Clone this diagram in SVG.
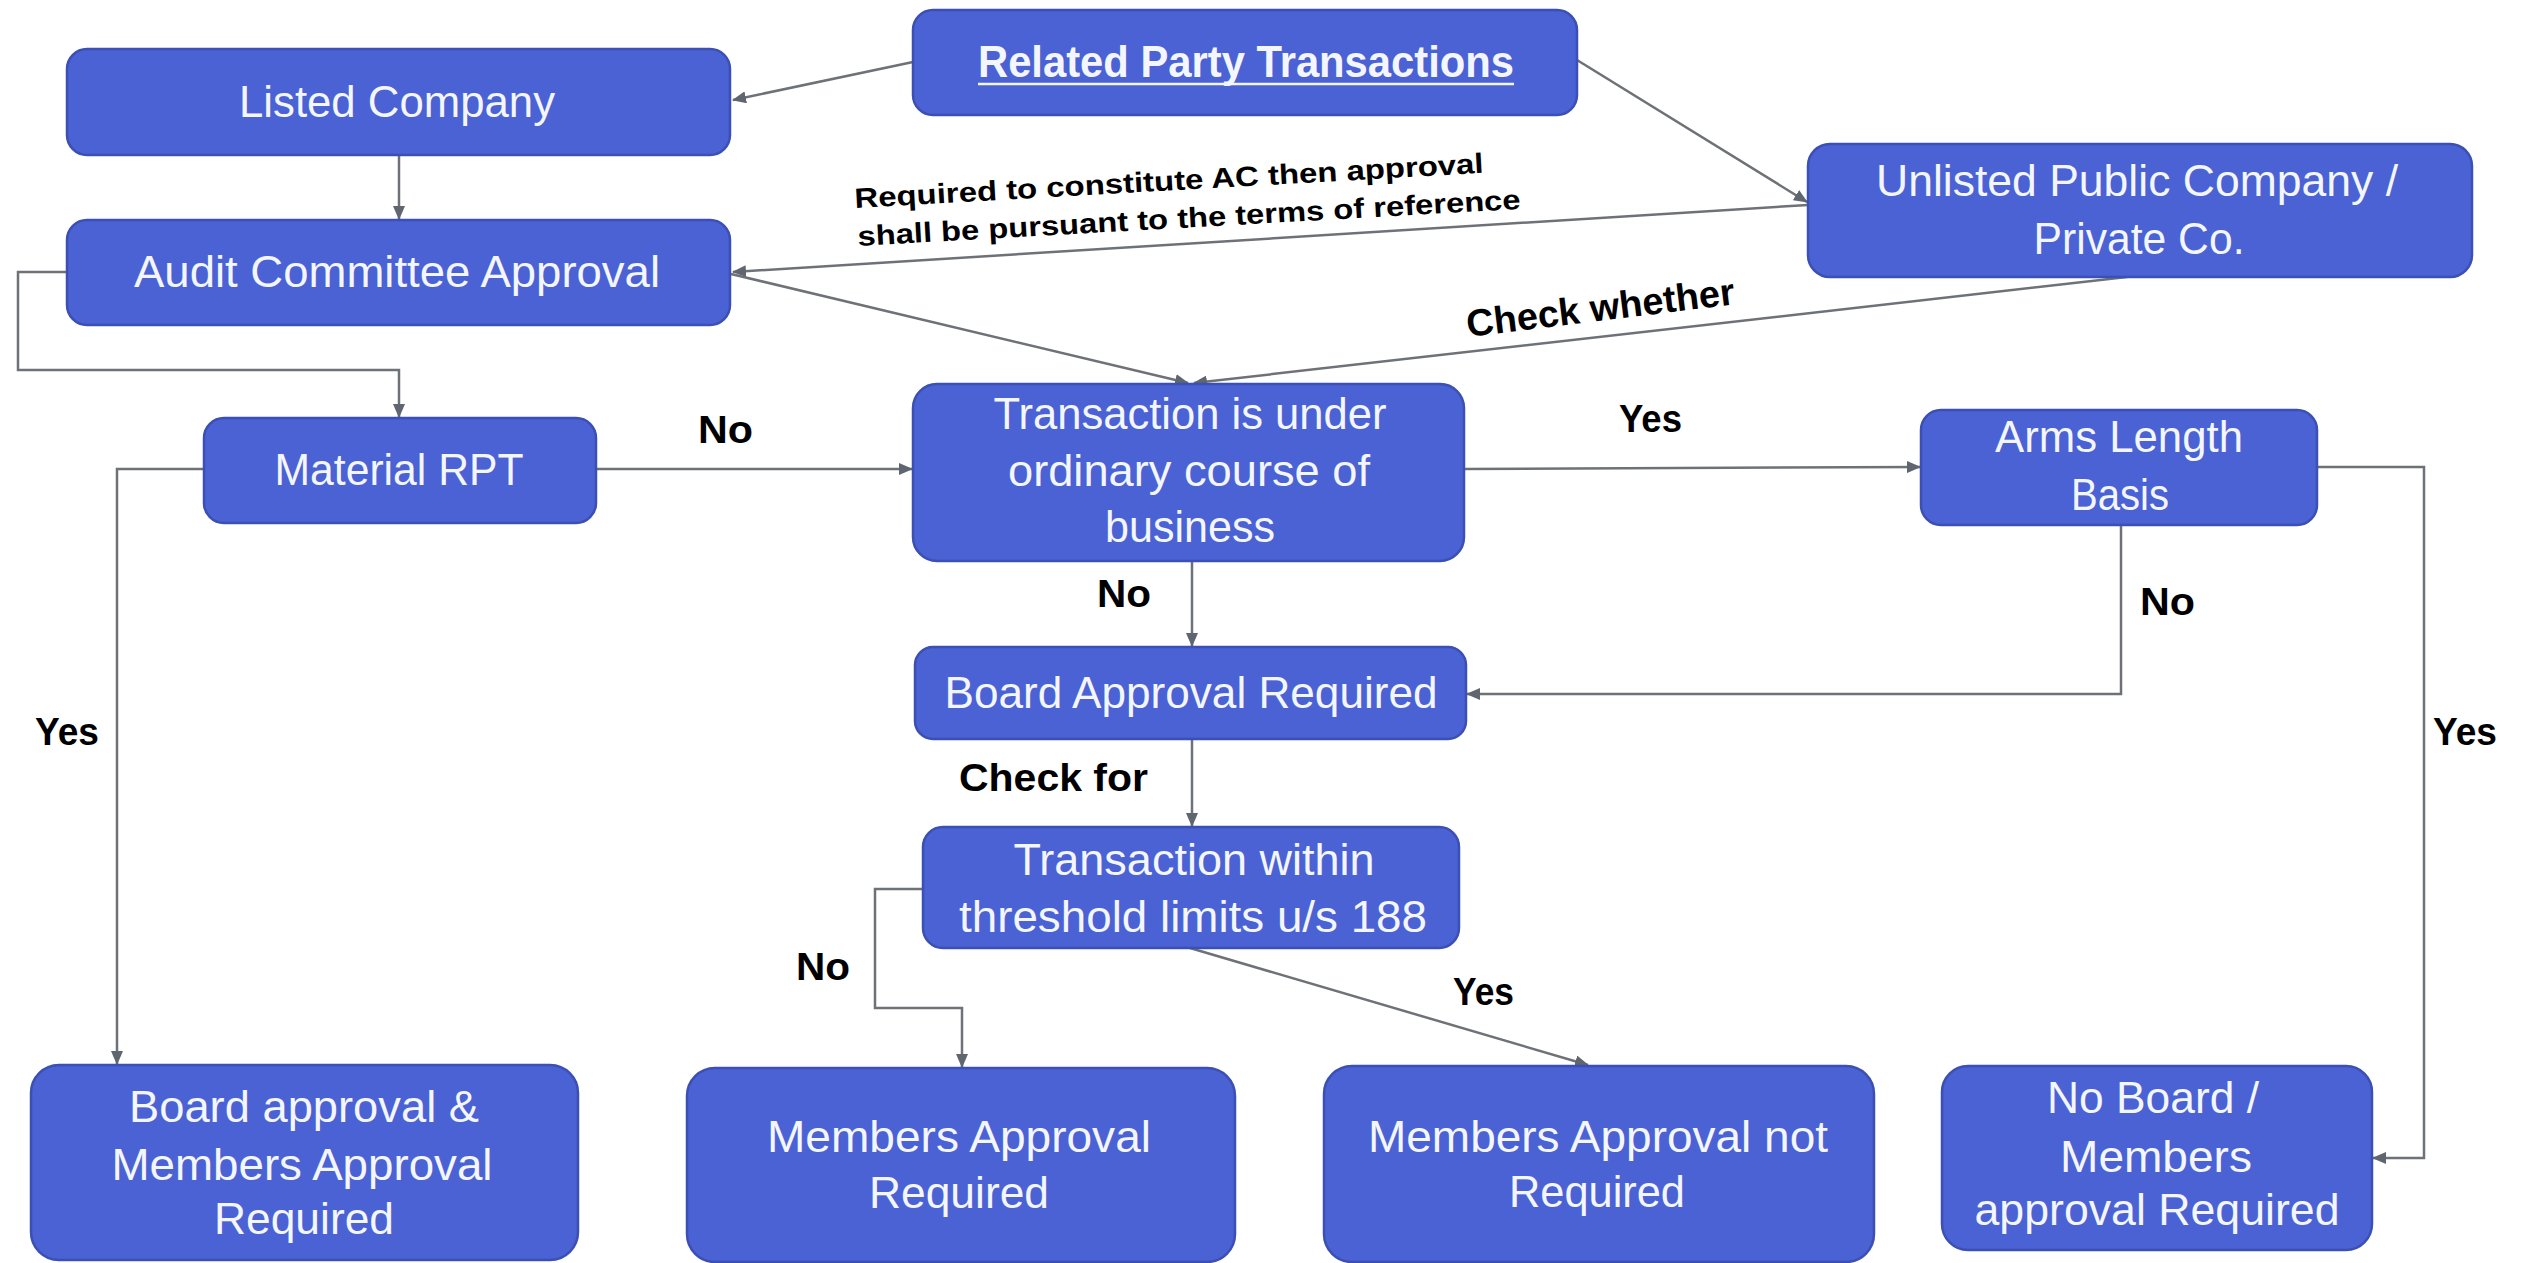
<svg xmlns="http://www.w3.org/2000/svg" width="2526" height="1263" viewBox="0 0 2526 1263">
  <style>
    .box { fill: #4a62d4; stroke: #3b4fb4; stroke-width: 2.5; }
    .nt { font-family: "Liberation Sans", Arial, sans-serif; font-size: 44px; fill: #f4f6ff; text-anchor: middle; }
    .lbl { font-family: "Liberation Sans", Arial, sans-serif; font-size: 38px; font-weight: bold; fill: #000; }
    .note { font-family: "Liberation Sans", Arial, sans-serif; font-size: 28px; font-weight: bold; fill: #000; }
    .conn { fill: none; stroke: #6e7276; stroke-width: 2.5; }
  </style>
  <defs>
    <marker id="arrow" markerUnits="userSpaceOnUse" markerWidth="14" markerHeight="12" refX="13" refY="6" orient="auto">
      <path d="M0,0 L14,6 L0,12 z" fill="#5f6670"/>
    </marker>
  </defs>
  <rect width="2526" height="1263" fill="#ffffff"/>

  <!-- connectors -->
  <g id="connectors" class="conn" marker-end="url(#arrow)">
    <line x1="913" y1="62" x2="733" y2="100"/>
    <line x1="1577" y1="60" x2="1807" y2="202"/>
    <line x1="399" y1="155" x2="399" y2="219"/>
    <line x1="1808" y1="205" x2="733" y2="272"/>
    <line x1="731" y1="274" x2="1188" y2="383"/>
    <line x1="2127" y1="277" x2="1194" y2="383"/>
    <polyline points="67,272 18,272 18,370 399,370 399,417"/>
    <line x1="596" y1="469" x2="912" y2="469"/>
    <polyline points="204,469 117,469 117,1064"/>
    <line x1="1464" y1="469" x2="1920" y2="467"/>
    <line x1="1192" y1="561" x2="1192" y2="646"/>
    <polyline points="2121,525 2121,694 1467,694"/>
    <polyline points="2317,467 2424,467 2424,1158 2373,1158"/>
    <line x1="1192" y1="739" x2="1192" y2="826"/>
    <polyline points="923,889 875,889 875,1008 962,1008 962,1067"/>
    <line x1="1190" y1="948" x2="1588" y2="1065"/>
  </g>

  <!-- connector labels -->
  <g id="labels">
    <text class="lbl" x="698" y="443" textLength="55" lengthAdjust="spacingAndGlyphs">No</text>
    <text class="lbl" x="1619" y="432" textLength="63" lengthAdjust="spacingAndGlyphs">Yes</text>
    <text class="lbl" x="1097" y="607" textLength="54" lengthAdjust="spacingAndGlyphs">No</text>
    <text class="lbl" x="959" y="791" textLength="189" lengthAdjust="spacingAndGlyphs">Check for</text>
    <text class="lbl" x="2140" y="615" textLength="55" lengthAdjust="spacingAndGlyphs">No</text>
    <text class="lbl" x="35" y="745" textLength="64" lengthAdjust="spacingAndGlyphs">Yes</text>
    <text class="lbl" x="2433" y="745" textLength="64" lengthAdjust="spacingAndGlyphs">Yes</text>
    <text class="lbl" x="796" y="980" textLength="54" lengthAdjust="spacingAndGlyphs">No</text>
    <text class="lbl" x="1453" y="1005" textLength="61" lengthAdjust="spacingAndGlyphs">Yes</text>
    <text class="lbl" x="1468" y="337" transform="rotate(-7 1468 337)" font-size="36" textLength="270" lengthAdjust="spacingAndGlyphs">Check whether</text>
    <text class="note" x="855" y="208" transform="rotate(-3.2 855 208)" textLength="630" lengthAdjust="spacingAndGlyphs">Required to constitute AC then approval</text>
    <text class="note" x="858" y="246" transform="rotate(-3.2 858 246)" textLength="664" lengthAdjust="spacingAndGlyphs">shall be pursuant to the terms of reference</text>
  </g>

  <!-- nodes -->
  <g id="rpt">
    <rect class="box" x="913" y="10" width="664" height="105" rx="20"/>
    <text class="nt" x="1246" y="77" font-weight="bold" textLength="536" lengthAdjust="spacingAndGlyphs">Related Party Transactions</text>
    <line x1="978" y1="84" x2="1514" y2="84" stroke="#f4f6ff" stroke-width="2.5"/>
  </g>
  <g id="listed">
    <rect class="box" x="67" y="49" width="663" height="106" rx="20"/>
    <text class="nt" x="397" y="117" textLength="316" lengthAdjust="spacingAndGlyphs">Listed Company</text>
  </g>
  <g id="audit">
    <rect class="box" x="67" y="220" width="663" height="105" rx="20"/>
    <text class="nt" x="397" y="287" textLength="526" lengthAdjust="spacingAndGlyphs">Audit Committee Approval</text>
  </g>
  <g id="unlisted">
    <rect class="box" x="1808" y="144" width="664" height="133" rx="22"/>
    <text class="nt" x="2137" y="196" textLength="522" lengthAdjust="spacingAndGlyphs">Unlisted Public Company /</text>
    <text class="nt" x="2139" y="254" textLength="211" lengthAdjust="spacingAndGlyphs">Private Co.</text>
  </g>
  <g id="material">
    <rect class="box" x="204" y="418" width="392" height="105" rx="20"/>
    <text class="nt" x="399" y="485" textLength="249" lengthAdjust="spacingAndGlyphs">Material RPT</text>
  </g>
  <g id="ordinary">
    <rect class="box" x="913" y="384" width="551" height="177" rx="24"/>
    <text class="nt" x="1190" y="429" textLength="393" lengthAdjust="spacingAndGlyphs">Transaction is under</text>
    <text class="nt" x="1189" y="486" textLength="362" lengthAdjust="spacingAndGlyphs">ordinary course of</text>
    <text class="nt" x="1190" y="542" textLength="170" lengthAdjust="spacingAndGlyphs">business</text>
  </g>
  <g id="arms">
    <rect class="box" x="1921" y="410" width="396" height="115" rx="20"/>
    <text class="nt" x="2119" y="452" textLength="248" lengthAdjust="spacingAndGlyphs">Arms Length</text>
    <text class="nt" x="2120" y="510" textLength="98" lengthAdjust="spacingAndGlyphs">Basis</text>
  </g>
  <g id="board">
    <rect class="box" x="915" y="647" width="551" height="92" rx="18"/>
    <text class="nt" x="1191" y="708" textLength="493" lengthAdjust="spacingAndGlyphs">Board Approval Required</text>
  </g>
  <g id="threshold">
    <rect class="box" x="923" y="827" width="536" height="121" rx="20"/>
    <text class="nt" x="1194" y="875" textLength="361" lengthAdjust="spacingAndGlyphs">Transaction within</text>
    <text class="nt" x="1193" y="932" textLength="468" lengthAdjust="spacingAndGlyphs">threshold limits u/s 188</text>
  </g>
  <g id="board-members">
    <rect class="box" x="31" y="1065" width="547" height="195" rx="28"/>
    <text class="nt" x="304" y="1122" textLength="350" lengthAdjust="spacingAndGlyphs">Board approval &amp;</text>
    <text class="nt" x="302" y="1180" textLength="381" lengthAdjust="spacingAndGlyphs">Members Approval</text>
    <text class="nt" x="304" y="1234" textLength="180" lengthAdjust="spacingAndGlyphs">Required</text>
  </g>
  <g id="members">
    <rect class="box" x="687" y="1068" width="548" height="194" rx="28"/>
    <text class="nt" x="959" y="1152" textLength="384" lengthAdjust="spacingAndGlyphs">Members Approval</text>
    <text class="nt" x="959" y="1208" textLength="180" lengthAdjust="spacingAndGlyphs">Required</text>
  </g>
  <g id="members-not">
    <rect class="box" x="1324" y="1066" width="550" height="196" rx="28"/>
    <text class="nt" x="1598" y="1152" textLength="460" lengthAdjust="spacingAndGlyphs">Members Approval not</text>
    <text class="nt" x="1597" y="1207" textLength="176" lengthAdjust="spacingAndGlyphs">Required</text>
  </g>
  <g id="no-board">
    <rect class="box" x="1942" y="1066" width="430" height="184" rx="26"/>
    <text class="nt" x="2153" y="1113" textLength="212" lengthAdjust="spacingAndGlyphs">No Board /</text>
    <text class="nt" x="2156" y="1172" textLength="192" lengthAdjust="spacingAndGlyphs">Members</text>
    <text class="nt" x="2157" y="1225" textLength="365" lengthAdjust="spacingAndGlyphs">approval Required</text>
  </g>
</svg>
